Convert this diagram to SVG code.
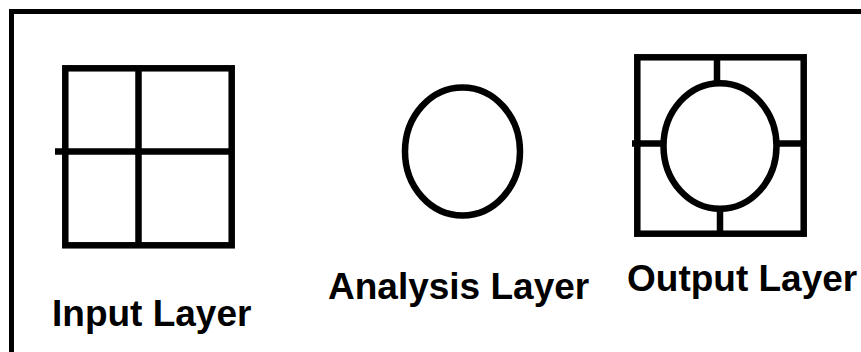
<svg xmlns="http://www.w3.org/2000/svg" width="861" height="352" viewBox="0 0 861 352">
<style>
.s{fill:none;stroke:#000;stroke-width:6.5}
.t{font-family:"Liberation Sans",Arial,sans-serif;font-weight:bold;font-size:37px;fill:#000}
</style>
<rect width="861" height="352" fill="#fff"/>
<path d="M11.5,352 V11.5 H861" fill="none" stroke="#000" stroke-width="5"/>
<g id="input">
<rect class="s" x="65.3" y="68.3" width="166.4" height="177"/>
<path class="s" d="M138.5,68 V245 M55,151.5 H231"/>
<text class="t" x="52" y="326">Input Layer</text>
</g>
<g id="analysis">
<ellipse class="s" cx="462.5" cy="151.5" rx="57.5" ry="64"/>
<text class="t" x="328" y="299">Analysis Layer</text>
</g>
<g id="output">
<rect class="s" x="637.3" y="57.3" width="166.4" height="176.4"/>
<ellipse class="s" cx="720" cy="146" rx="56.5" ry="62.8"/>
<path class="s" d="M717,57 V83 M720,209 V234 M632,143.5 H663.5 M776.5,143.5 H804"/>
<text class="t" x="627" y="291">Output Layer</text>
</g>
</svg>
